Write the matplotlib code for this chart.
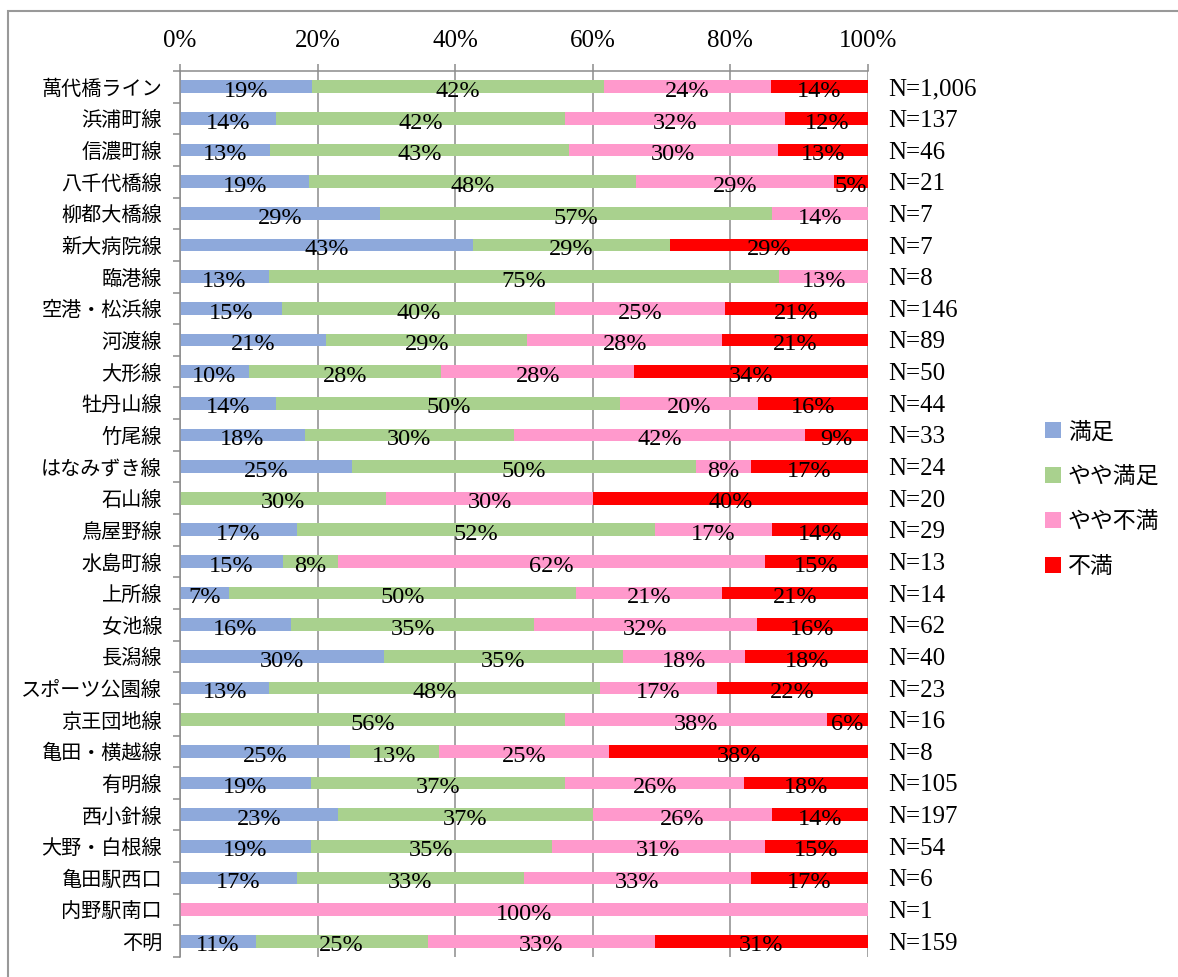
import matplotlib
matplotlib.use("Agg")
import matplotlib.pyplot as plt
from matplotlib.patches import Patch, Rectangle
import numpy as np

plt.rcParams['font.family'] = ['Noto Sans CJK JP', 'DejaVu Sans']

lines = ["萬代橋ライン", "浜浦町線", "信濃町線", "八千代橋線", "柳都大橋線", "新大病院線",
         "臨港線", "空港・松浜線", "河渡線", "大形線", "牡丹山線", "竹尾線", "はなみずき線",
         "石山線", "鳥屋野線", "水島町線", "上所線", "女池線", "長潟線", "スポーツ公園線",
         "京王団地線", "亀田・横越線", "有明線", "西小針線", "大野・白根線", "亀田駅西口",
         "内野駅南口", "不明"]

manzoku = [19, 14, 13, 19, 29, 43, 13, 15, 21, 10, 14, 18, 25, 0, 17, 15, 7, 16, 30, 13, 0, 25, 19, 23, 19, 17, 0, 11]
yaya_manzoku = [42, 42, 43, 48, 57, 29, 75, 40, 29, 28, 50, 30, 50, 30, 52, 8, 50, 35, 35, 48, 56, 13, 37, 37, 35, 33, 0, 25]
yaya_fuman = [24, 32, 30, 29, 14, 0, 13, 25, 28, 28, 20, 42, 8, 30, 17, 62, 21, 32, 18, 17, 38, 25, 26, 26, 31, 33, 100, 33]
fuman = [14, 12, 13, 5, 0, 29, 0, 21, 21, 34, 16, 9, 17, 40, 14, 15, 21, 16, 18, 22, 6, 38, 18, 14, 15, 17, 0, 31]
n_labels = ["N=1,006", "N=137", "N=46", "N=21", "N=7", "N=7", "N=8", "N=146", "N=89", "N=50",
            "N=44", "N=33", "N=24", "N=20", "N=29", "N=13", "N=14", "N=62", "N=40", "N=23",
            "N=16", "N=8", "N=105", "N=197", "N=54", "N=6", "N=1", "N=159"]

series_names = ["満足", "やや満足", "やや不満", "不満"]
colors = ["#8EA9DB", "#A9D18E", "#FF99CC", "#FF0000"]
xticks = [0, 20, 40, 60, 80, 100]

data = np.array([manzoku, yaya_manzoku, yaya_fuman, fuman], dtype=float)
shares = data / data.sum(axis=0) * 100
y = np.arange(len(lines))

fig = plt.figure(figsize=(11.78, 9.77), dpi=100)
ax = fig.add_axes([180/1178, 1-957/977, 688/1178, 886/977])

serif = 'Liberation Serif'
left = np.zeros(len(lines))
for k in range(4):
    ax.barh(y, shares[k], left=left, height=0.4, color=colors[k], zorder=2)
    for i in range(len(lines)):
        if data[k, i] > 0:
            ax.text(left[i] + shares[k, i]/2, y[i] + 0.15, "%d%%" % data[k, i],
                    ha='center', va='center', fontsize=17.5, family=serif, zorder=3)
    left += shares[k]

for i in range(len(lines)):
    ax.text(103.0, y[i] + 0.08, n_labels[i], ha='left', va='center', fontsize=18,
            family=serif, clip_on=False)

ax.set_xlim(0, 100)
ax.set_ylim(len(lines) - 0.5, -0.5)
ax.xaxis.tick_top()
ax.set_xticks(xticks)
ax.set_xticklabels(["%d%%" % t for t in xticks], family=serif, fontsize=18)
ax.tick_params(axis='x', length=5, width=1.1, color='#8c8c8c', pad=9)
ax.set_yticks(y)
ax.set_yticklabels(lines, fontsize=14.5)
ax.set_yticks(np.arange(len(lines) + 1) - 0.5, minor=True)
ax.tick_params(axis='y', which='major', length=0, pad=13)
ax.tick_params(axis='y', which='minor', length=5, width=1.1, color='#8c8c8c')
ax.grid(axis='x', color='#8c8c8c', linewidth=1.1, zorder=0)
ax.set_axisbelow(True)
for s in ['right', 'bottom']:
    ax.spines[s].set_visible(False)
for s in ['top', 'left']:
    ax.spines[s].set_color('#8c8c8c')
    ax.spines[s].set_linewidth(1.1)

handles = [Patch(facecolor=c) for c in colors]
fig.legend(handles, series_names, loc='center left', bbox_to_anchor=(1045/1178, 1-499/977),
           frameon=False, fontsize=16.5, borderpad=0, borderaxespad=0,
           handlelength=0.7, handleheight=0.7, handletextpad=0.3, labelspacing=0.95)

fig.patches.append(Rectangle((8/1178, -0.1), 1.2, 1-11/977+0.1, transform=fig.transFigure,
                             fill=False, edgecolor='#999999', linewidth=1.5))

fig.savefig("out.png", dpi=100)
